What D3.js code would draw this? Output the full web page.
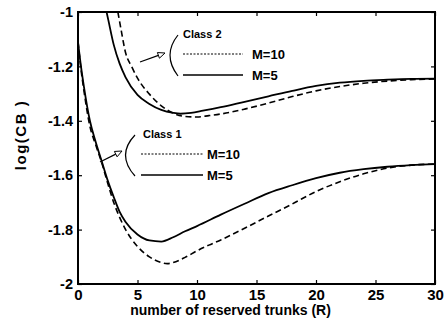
<!DOCTYPE html>
<html>
<head>
<meta charset="utf-8">
<script src="https://cdn.jsdelivr.net/npm/d3@7"></script>
<style>
  body { margin: 0; background: #fff; }
  svg text { font-family: "Liberation Sans", Arial, sans-serif; font-weight: bold; fill: #000; }
</style>
</head>
<body>
<svg width="444" height="324"></svg>
<script>
// values: [R, log(CB)]
var class1_m5 = [[0,-1.11],[0.25,-1.2],[0.5,-1.275],[1,-1.40],[1.5,-1.48],[2,-1.55],[2.5,-1.62],[3,-1.68],[3.5,-1.735],[4,-1.772],[5,-1.818],[6,-1.840],[7,-1.844],[8,-1.828],[9,-1.806],[10,-1.787],[12,-1.745],[14,-1.705],[16,-1.666],[18,-1.637],[20,-1.611],[22,-1.591],[24,-1.578],[26,-1.569],[28,-1.563],[30,-1.559]];
var class1_m10 = [[0,-1.11],[0.25,-1.21],[0.5,-1.29],[1,-1.42],[1.5,-1.49],[2,-1.555],[2.5,-1.63],[3,-1.70],[3.5,-1.755],[4,-1.80],[5,-1.862],[6,-1.90],[7,-1.921],[7.5,-1.925],[8,-1.921],[9,-1.902],[10,-1.878],[11,-1.857],[12,-1.838],[14,-1.795],[16,-1.75],[18,-1.706],[20,-1.66],[22,-1.624],[24,-1.595],[26,-1.574],[28,-1.563],[30,-1.559]];
var class2_m5 = [[2.4,-1.0],[2.55,-1.03],[3,-1.12],[3.5,-1.19],[4,-1.24],[5,-1.305],[6,-1.338],[7,-1.36],[8,-1.371],[8.6,-1.374],[9.5,-1.371],[10.5,-1.363],[12,-1.35],[14,-1.33],[16,-1.31],[18,-1.29],[20,-1.272],[22,-1.26],[24,-1.253],[26,-1.249],[28,-1.246],[30,-1.245]];
var class2_m10 = [[3.35,-1.0],[3.6,-1.06],[4,-1.15],[4.5,-1.2],[5,-1.243],[6,-1.302],[7,-1.345],[8,-1.372],[9,-1.384],[10,-1.386],[11,-1.381],[12,-1.375],[14,-1.357],[16,-1.335],[18,-1.311],[20,-1.29],[22,-1.274],[24,-1.262],[26,-1.254],[28,-1.249],[30,-1.246]];

var xTicks = [0, 5, 10, 15, 20, 25, 30];
var yTicks = [-1, -1.2, -1.4, -1.6, -1.8, -2];
var legendLabels = ["M=10", "M=5"];

var svg = d3.select("svg");
var pL = 78, pR = 435, pT = 12, pB = 284;

var x = d3.scaleLinear().domain([0, 30]).range([pL, pR]);
var y = d3.scaleLinear().domain([-2, -1]).range([pB, pT]);

svg.append("defs").append("clipPath").attr("id", "plot")
  .append("rect").attr("x", pL).attr("y", pT)
  .attr("width", pR - pL).attr("height", pB - pT);

var fmt = function(d) { return String(+d.toFixed(1)); };

// axes with inward ticks
svg.append("g").attr("transform", "translate(0," + pB + ")")
  .call(d3.axisBottom(x).tickValues(xTicks).tickSize(-4).tickPadding(5).tickFormat(fmt))
  .call(g => g.select(".domain").remove())
  .call(g => g.selectAll("text").style("font-size", "15px").style("font-family", "Liberation Sans, Arial"));
svg.append("g").attr("transform", "translate(0," + pT + ")")
  .call(d3.axisTop(x).tickValues(xTicks).tickSize(-4).tickFormat(""))
  .call(g => g.select(".domain").remove());
svg.append("g").attr("transform", "translate(" + pL + ",0)")
  .call(d3.axisLeft(y).tickValues(yTicks).tickSize(-4).tickPadding(5).tickFormat(fmt))
  .call(g => g.select(".domain").remove())
  .call(g => g.selectAll("text").style("font-size", "14.5px").style("font-family", "Liberation Sans, Arial"));
svg.append("g").attr("transform", "translate(" + pR + ",0)")
  .call(d3.axisRight(y).tickValues(yTicks).tickSize(-4).tickFormat(""))
  .call(g => g.select(".domain").remove());

svg.selectAll(".tick line").attr("stroke", "#000").attr("stroke-width", 1.2);

svg.append("rect")
  .attr("x", pL).attr("y", pT)
  .attr("width", pR - pL).attr("height", pB - pT)
  .attr("fill", "none").attr("stroke", "#000").attr("stroke-width", 2);

// curves
var line = d3.line()
  .x(d => x(d[0])).y(d => y(d[1]))
  .curve(d3.curveMonotoneX);

var curves = svg.append("g").attr("clip-path", "url(#plot)");
[[class1_m5, false], [class1_m10, true], [class2_m5, false], [class2_m10, true]].forEach(function(c) {
  curves.append("path")
    .attr("d", line(c[0]))
    .attr("fill", "none")
    .attr("stroke", "#000")
    .attr("stroke-width", c[1] ? 1.6 : 1.8)
    .attr("stroke-dasharray", c[1] ? "6,3.5" : null);
});

// legends
function legend(cx, cy, title, lineX0, lineX1, textX, brX, bulge, arrow) {
  var g = svg.append("g");
  g.append("text").attr("x", cx).attr("y", cy).style("font-size", "11px").text(title);
  g.append("path")
    .attr("d", "M" + brX + "," + (cy - 3) + " Q" + (brX - bulge) + "," + (cy + 17) + " " + brX + "," + (cy + 38))
    .attr("fill", "none").attr("stroke", "#000").attr("stroke-width", 1.2);
  var rows = [cy + 16, cy + 37];
  legendLabels.forEach(function(lab, i) {
    g.append("line")
      .attr("x1", lineX0).attr("x2", lineX1)
      .attr("y1", rows[i]).attr("y2", rows[i])
      .attr("stroke", "#000")
      .attr("stroke-width", i === 0 ? 1 : 1.6)
      .attr("stroke-dasharray", i === 0 ? "2,1.5" : null);
    g.append("text").attr("x", textX).attr("y", rows[i] + 4.5)
      .style("font-size", "13px").text(lab);
  });
  // arrow with open head
  var a = arrow, ang = Math.atan2(a[3] - a[1], a[2] - a[0]);
  var hx = a[2], hy = a[3], L = 7, W = 3;
  var bx = hx - L * Math.cos(ang), by = hy - L * Math.sin(ang);
  g.append("line").attr("x1", a[0]).attr("y1", a[1]).attr("x2", bx).attr("y2", by)
    .attr("stroke", "#000").attr("stroke-width", 1.2);
  g.append("path")
    .attr("d", "M" + hx + "," + hy +
      " L" + (bx + W * Math.sin(ang)) + "," + (by - W * Math.cos(ang)) +
      " L" + (bx - W * Math.sin(ang)) + "," + (by + W * Math.cos(ang)) + "Z")
    .attr("fill", "#fff").attr("stroke", "#000").attr("stroke-width", 1);
}

legend(183, 38, "Class 2", 183, 243, 252, 178, 16, [140, 62, 165, 53]);
legend(143, 138, "Class 1", 141, 203, 207, 135, 19, [100, 162, 122, 151]);

// axis titles
svg.append("text")
  .attr("x", (pL + pR) / 2 - 26).attr("y", 315)
  .attr("text-anchor", "middle")
  .style("font-size", "14px")
  .text("number of reserved trunks (R)");

svg.append("text")
  .attr("transform", "translate(26,135) rotate(-90)")
  .attr("text-anchor", "middle")
  .attr("letter-spacing", 1.5)
  .style("font-size", "15px")
  .text("log(CB )");
</script>
</body>
</html>
